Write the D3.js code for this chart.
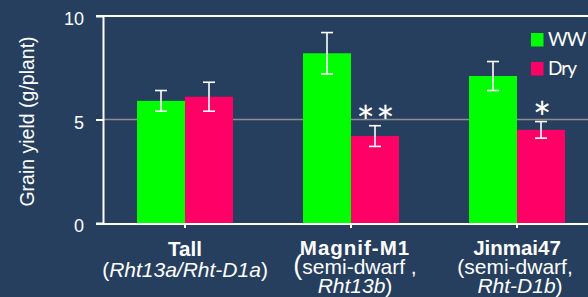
<!DOCTYPE html>
<html><head><meta charset="utf-8">
<script src="https://cdn.jsdelivr.net/npm/d3@7/dist/d3.min.js"></script>
<style>
html,body{margin:0;padding:0;background:#273f5e;}
svg{display:block;}
text{fill:#fff;}
</style></head>
<body><svg id="c" width="588" height="297"></svg>
<script>
const categories = ["Tall", "Magnif-M1", "Jinmai47"];
const series = ["WW", "Dry"];
const wwValues = [5.9, 8.2, 7.1];
const wwErrors = [0.5, 1.0, 0.7];
const dryValues = [6.1, 4.2, 4.5];
const dryErrors = [0.7, 0.5, 0.4];
const significance = ["", "**", "*"];
const yTicks = [0, 5, 10];
const yLabel = "Grain yield (g/plant)";
const catLines = [
  [{t:"Tall", b:true}, [{t:"(", i:false},{t:"Rht13a/Rht-D1a", i:true},{t:")", i:false}]],
  [{t:"Magnif-M1", b:true}, [{t:"(", i:false, big:true},{t:"semi-dwarf ,", i:false}], [{t:"Rht13b", i:true},{t:")", i:false}]],
  [{t:"Jinmai47", b:true}, [{t:"(semi-dwarf,", i:false}], [{t:"Rht-D1b", i:true},{t:")", i:false}]]
];
const colors = {WW:"#00ff00", Dry:"#ff0066"};

const svg = d3.select("#c");
const F = "'Liberation Sans', Arial, sans-serif";
const x = d3.scaleBand().domain(categories).range([102, 600]).padding(0);
const xs = d3.scaleBand().domain(series).range([-48, 48]).padding(0);
const y = d3.scaleLinear().domain([0, 10]).range([223, 16]);

// gridline at 5
svg.append("line").attr("x1", 103).attr("x2", 588).attr("y1", y(5)).attr("y2", y(5))
  .attr("stroke", "#8e8e8e").attr("stroke-width", 1.5);
// top border
svg.append("line").attr("x1", 96).attr("x2", 588).attr("y1", y(10)).attr("y2", y(10))
  .attr("stroke", "#fff").attr("stroke-width", 2);

const data = categories.map((c, i) => ([
  {c, s:"WW", v:wwValues[i], e:wwErrors[i]},
  {c, s:"Dry", v:dryValues[i], e:dryErrors[i]}
])).flat();

svg.selectAll("rect.bar").data(data).join("rect").attr("class","bar")
  .attr("x", d => x(d.c) + x.bandwidth()/2 + xs(d.s))
  .attr("width", xs.bandwidth())
  .attr("y", d => y(d.v))
  .attr("height", d => y(0) - y(d.v))
  .attr("fill", d => colors[d.s]);

// error bars
const eg = svg.append("g").attr("stroke", "#fff").attr("stroke-width", 1.6);
data.forEach(d => {
  const cx = x(d.c) + x.bandwidth()/2 + xs(d.s) + xs.bandwidth()/2;
  eg.append("line").attr("x1", cx).attr("x2", cx).attr("y1", y(d.v + d.e)).attr("y2", y(d.v - d.e));
  [d.v + d.e, d.v - d.e].forEach(v => eg.append("line").attr("x1", cx-6).attr("x2", cx+6).attr("y1", y(v)).attr("y2", y(v)));
});

// significance
categories.forEach((c, i) => {
  if (!significance[i]) return;
  const cx = x(c) + x.bandwidth()/2 + xs("Dry") + xs.bandwidth()/2;
  svg.append("text").attr("x", cx + 1).attr("y", y(dryValues[i] + dryErrors[i]) + 12.5)
    .attr("text-anchor", "middle").attr("font-family", "Lato, sans-serif").attr("font-size", 44)
    .attr("letter-spacing", significance[i].length > 1 ? 1 : 0)
    .text(significance[i]);
});

// y axis
const ya = svg.append("g").attr("transform", "translate(103,0)")
  .call(d3.axisLeft(y).tickValues(yTicks).tickSize(7).tickSizeOuter(0).tickPadding(12));
ya.selectAll("path,line").attr("stroke", "#fff").attr("stroke-width", 2);
ya.selectAll("text").attr("font-family", F).attr("font-size", 18).attr("fill", "#fff").attr("dy", "0.48em");

// x axis
const xa = svg.append("g").attr("transform", "translate(0,224)")
  .call(d3.axisBottom(x).tickSize(4).tickSizeOuter(0).tickFormat(""));
xa.selectAll("path,line").attr("stroke", "#fff").attr("stroke-width", 2);
xa.select("path").attr("d", "M96,0H600");

// category labels
const lineY = [[256, 277], [255, 274, 293], [255, 274, 293]];
const lineDx = [[0, 0], [4, 4, 4], [0, -2, 3]];
categories.forEach((c, i) => {
  const cx = x(c) + x.bandwidth()/2;
  catLines[i].forEach((ln, j) => {
    const t = svg.append("text").attr("x", cx + lineDx[i][j]).attr("y", lineY[i][j]).attr("text-anchor", "middle")
      .attr("font-family", F).attr("font-size", j === 0 ? 20.5 : 21);
    if (j === 0) {
      t.attr("font-weight", "bold").attr("letter-spacing", i === 1 ? 1 : 0).text(ln.t);
      return;
    }
    ln.forEach(p => {
      const ts = t.append("tspan").text(p.t);
      if (p.i) ts.attr("font-style", "italic");
      if (p.big) ts.attr("font-size", 27);
    });
  });
});

// y label
svg.append("text").attr("transform", "translate(34,121.5) rotate(-90)").attr("text-anchor", "middle")
  .attr("font-family", F).attr("font-size", 19.5).text(yLabel);

// legend
const lg = svg.append("g");
series.forEach((s, i) => {
  lg.append("rect").attr("x", 531).attr("y", 33 + i*29).attr("width", 12.5).attr("height", 13.5).attr("fill", colors[s]);
  lg.append("text").attr("x", 548).attr("y", 46 + i*29).attr("font-family", "Lato, sans-serif").attr("font-size", 19)
    .attr("letter-spacing", -1).text(s);
});
</script></body></html>
